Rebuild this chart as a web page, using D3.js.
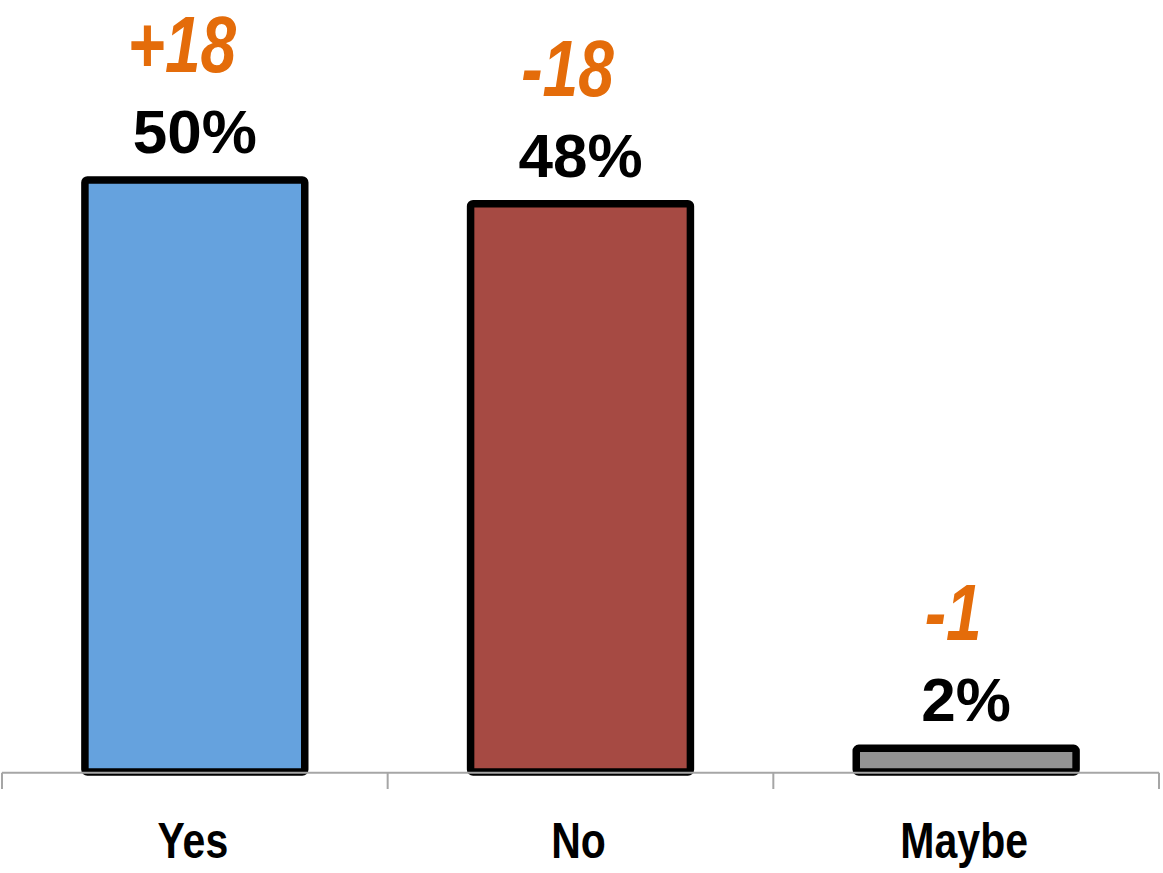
<!DOCTYPE html>
<html>
<head>
<meta charset="utf-8">
<script src="https://cdn.jsdelivr.net/npm/d3@7/dist/d3.min.js"></script>
<style>
  html, body { margin: 0; padding: 0; background: #fff; }
  svg { display: block; }
</style>
</head>
<body>
<svg id="chart" width="1163" height="873"></svg>
<script>
// Survey answers, share of respondents and change since last time
const categories = ["Yes", "No", "Maybe"];
const shares = [50, 48, 2];
const changes = ["+18", "-18", "-1"];
const barColors = ["#65A2DE", "#A64A43", "#939393"];

const svg = d3.select("#chart");

const x = d3.scaleBand()
  .domain(categories)
  .range([2, 1159])
  .paddingInner(0.43)
  .paddingOuter(0.215);

const y = d3.scaleLinear()
  .domain([0, 50])
  .range([772, 180]);

// Bars with heavy dark outline
svg.append("g")
  .selectAll("rect")
  .data(categories)
  .join("rect")
  .attr("x", d => x(d))
  .attr("y", (d, i) => y(shares[i]))
  .attr("width", x.bandwidth())
  .attr("height", (d, i) => y(0) - y(shares[i]))
  .attr("rx", 2.5)
  .attr("fill", (d, i) => barColors[i])
  .attr("stroke", "#000")
  .attr("stroke-width", 7.5);

// Category axis: baseline plus tick marks between categories
const axisY = 772.7;
const axis = svg.append("g");
axis.append("line")
  .attr("x1", x.range()[0]).attr("x2", x.range()[1])
  .attr("y1", axisY).attr("y2", axisY)
  .attr("stroke", "#A6A6A6").attr("stroke-width", 2);
const step = x.step();
const bounds = d3.range(categories.length + 1).map(i => x.range()[0] + i * step);
axis.selectAll("line.tick")
  .data(bounds)
  .join("line")
  .attr("class", "tick")
  .attr("x1", d => d).attr("x2", d => d)
  .attr("y1", axisY).attr("y2", 789)
  .attr("stroke", "#A6A6A6").attr("stroke-width", 2);

const cx = d => x(d) + x.bandwidth() / 2;

// Category names (condensed bold)
svg.append("g")
  .selectAll("text")
  .data(categories)
  .join("text")
  .attr("transform", d => `translate(${cx(d) - 2},858) scale(0.82,1)`)
  .attr("text-anchor", "middle")
  .attr("font-family", "'Liberation Sans', Arial, sans-serif")
  .attr("font-weight", "bold")
  .attr("font-size", 50)
  .attr("fill", "#000")
  .text(d => d);

// Share labels above each bar
svg.append("g")
  .selectAll("text")
  .data(categories)
  .join("text")
  .attr("x", d => cx(d))
  .attr("y", (d, i) => y(shares[i]) - 27)
  .attr("text-anchor", "middle")
  .attr("font-family", "'Liberation Sans', Arial, sans-serif")
  .attr("font-weight", "bold")
  .attr("font-size", 62)
  .attr("fill", "#000")
  .text((d, i) => shares[i] + "%");

// Change labels in orange italics
svg.append("g")
  .selectAll("text")
  .data(categories)
  .join("text")
  .attr("transform", (d, i) => `translate(${cx(d) - 13},${y(shares[i]) - 108}) scale(0.8,1)`)
  .attr("text-anchor", "middle")
  .attr("font-family", "'Liberation Sans', Arial, sans-serif")
  .attr("font-weight", "bold")
  .attr("font-style", "italic")
  .attr("font-size", 80)
  .attr("fill", "#E46C0A")
  .text((d, i) => changes[i]);
</script>
</body>
</html>
